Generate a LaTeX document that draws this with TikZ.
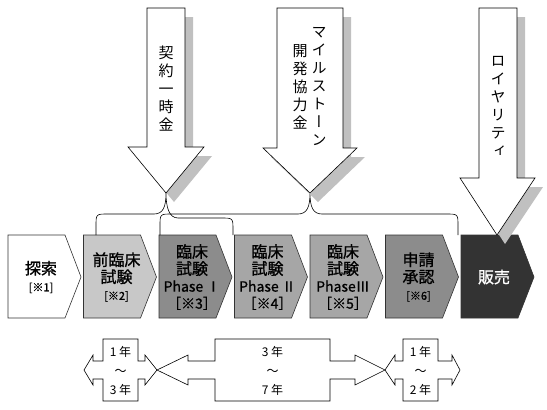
\documentclass[tikz,border=0pt]{standalone}
\usepackage{fontspec}
\usetikzlibrary{positioning}
\newfontfamily\jp{Noto Sans CJK JP}
\newfontfamily\jpb[FakeBold=1]{Noto Sans CJK JP}
\newfontfamily\jpv[RawFeature=+vert]{Noto Sans CJK JP}
\definecolor{stageA}{RGB}{255,255,255}
\definecolor{stageB}{RGB}{200,200,200}
\definecolor{stageC}{RGB}{140,140,140}
\definecolor{stageD}{RGB}{166,166,166}
\definecolor{stageE}{RGB}{51,51,51}
\definecolor{shade}{RGB}{192,192,192}
\def\notefs{\fontsize{11}{13}\selectfont}
\def\phasefs{\fontsize{14}{18}\selectfont}
\tikzset{
  stage/.style={draw=black!80, line width=0.6pt},
  stagetext/.style={font=\jpb\fontsize{16}{17}\selectfont, align=center, inner sep=0pt},
  brace/.style={draw, line width=0.6pt},
  payarrow/.style={draw, fill=white, line width=0.6pt},
  payshadow/.style={fill=shade, draw=none},
  paytext/.style={font=\jpv\fontsize{15}{18}\selectfont, align=center, inner sep=0pt},
  span/.style={draw, fill=white, line width=0.6pt},
  spantext/.style={font=\jp\fontsize{12}{19}\selectfont, align=center, inner sep=0pt}
}
\begin{document}
\begin{tikzpicture}[x=1pt, y=-1pt]
    \useasboundingbox (0,0) rectangle (547,410);
    % development stages
    \foreach \col/\tc/\lbl [count=\i from 0] in {
        stageA/black/{探索\\{\notefs[※1]}},
        stageB/black/{前臨床\\試験\\{\notefs[※2]}},
        stageC/black/{臨床\\試験\\{\phasefs Phase Ⅰ}\\{\phasefs［※3］}},
        stageD/black/{臨床\\試験\\{\phasefs Phase Ⅱ}\\{\phasefs［※4］}},
        stageD/black/{臨床\\試験\\{\phasefs PhaseⅢ}\\{\phasefs［※5］}},
        stageC/black/{申請\\承認\\{\notefs[※6]}},
        stageE/white/{販売}} {
      \pgfmathsetmacro\xl{8+75.5*\i}
      \filldraw[stage, fill=\col]
        (\xl,235) -- ++(57,0) -- ++(16,42) -- ++(-16,41) -- ++(-57,0) -- cycle;
      \node[stagetext, text=\tc] (stage\i) at (\xl+33,277) {\lbl};
    }
    % braces
    \coordinate (tipA) at (166,193);
    \coordinate (tipB) at (310,193);
    \draw[brace] (96,235) -- (96,226) .. controls (96,214) .. (108,214) -- (154,214)
      .. controls (163,214) and (166,207) .. (tipA)
      .. controls (166,207) and (169,218) .. (178,218) -- (221,218)
      .. controls (233,218) .. (233,230) -- (233,235);
    \draw[brace] (160,235) -- (160,226) .. controls (160,214) .. (172,214) -- (298,214)
      .. controls (307,214) and (310,207) .. (tipB)
      .. controls (310,207) and (313,214) .. (322,214) -- (446,214)
      .. controls (458,214) .. (458,226) -- (458,235);
    % payment arrows
    \foreach \sl/\sr/\hy/\hl/\hr/\tx/\ty in {
        147/185/147/128/204/166/193,
        277/343/148/263/357/310/193,
        479/517/178/460/535/497/235} {
      \fill[payshadow, shift={(8,9)}]
        (\sl,8) -- (\sr,8) -- (\sr,\hy) -- (\hr,\hy) -- (\tx,\ty) -- (\hl,\hy) -- (\sl,\hy) -- cycle;
      \filldraw[payarrow]
        (\sl,8) -- (\sr,8) -- (\sr,\hy) -- (\hr,\hy) -- (\tx,\ty) -- (\hl,\hy) -- (\sl,\hy) -- cycle;
    }
    \node[paytext] (payA) at (166,89) {契\\約\\一\\時\\金};
    \node[paytext] (payB) at (319,87) {マ\\イ\\ル\\ス\\ト\\ー\\ン};
    \node[paytext] (payBb) at (300,87) {開\\発\\協\\力\\金};
    \node[paytext] (payC) at (498,106) {ロ\\イ\\ヤ\\リ\\テ\\ィ};
    % durations
    \foreach \pl/\fl/\bl/\br/\fr/\pr/\txt [count=\k] in {
        84/93/103/138/145/157/{1 年\\～\\3 年},
        157/188/215/330/355/385/{3 年\\～\\7 年},
        385/395/403/438/452/460/{1 年\\～\\2 年}} {
      \filldraw[span] (\pl,370) -- (\fl,355) -- (\fl,361) -- (\bl,361) -- (\bl,339)
        -- (\br,339) -- (\br,361) -- (\fr,361) -- (\fr,355) -- (\pr,370)
        -- (\fr,385) -- (\fr,379) -- (\br,379) -- (\br,401) -- (\bl,401)
        -- (\bl,379) -- (\fl,379) -- (\fl,385) -- cycle;
      \node[spantext] (span\k) at ({(\bl+\br)/2},371) {\txt};
    }
\end{tikzpicture}
\end{document}
